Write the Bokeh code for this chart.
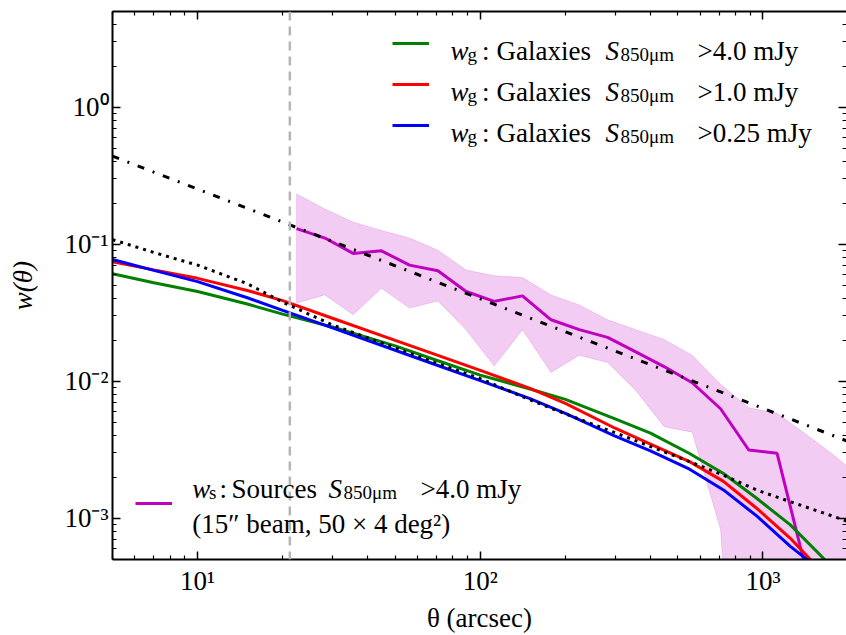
from bokeh.plotting import figure
from bokeh.models import (Span, Label, Legend, LegendItem, FixedTicker, LogAxis,
                          CustomJSTickFormatter, Range1d)
from bokeh.embed import file_html
from bokeh.resources import INLINE

# ---------------- data ----------------
theta_model = [5, 7, 10, 15, 20, 30, 50, 70, 100, 150, 200, 300, 400, 550, 725, 950, 1250, 1650, 2000]
w_g_4mJy = [0.0610, 0.0523, 0.0452, 0.0366, 0.0309, 0.0249, 0.01814, 0.01424, 0.01109, 0.00878,
            0.00737, 0.00532, 0.00418, 0.00297, 0.00212, 0.00140, 0.000894, 0.000502, 0.000336]
w_g_1mJy = [0.0746, 0.0650, 0.0564, 0.0460, 0.0388, 0.02884, 0.01989, 0.01556, 0.01201, 0.00886,
            0.00689, 0.00454, 0.00348, 0.00259, 0.00186, 0.001184, 0.000714, 0.000388, 0.00025]
w_g_025mJy = [0.0774, 0.0645, 0.0534, 0.0407, 0.0329, 0.0245, 0.01683, 0.01315, 0.01012, 0.00747,
              0.00583, 0.00397, 0.00310, 0.00228, 0.00161, 0.00104, 0.000624, 0.000397, 0.00025]
w_dm = [0.1081, 0.0871, 0.0704, 0.0515, 0.0378, 0.02576, 0.01755, 0.01354, 0.01046, 0.00731,
        0.00578, 0.00421, 0.00334, 0.00259, 0.00206, 0.001606, 0.00132, 0.001087, 0.000946]

theta_pl = [5, 2000]
w_pl = [0.44, 0.00364]

theta_bins = [22.4, 28.2, 35.5, 44.7, 56.2, 70.8, 89.1, 112, 141, 178, 224, 282, 355, 447,
              562, 708, 891, 1122, 1413, 1778, 2239]
w_src = [0.130, 0.111, 0.0857, 0.0896, 0.0704, 0.0641, 0.0452, 0.0383, 0.0420, 0.0281, 0.0238,
         0.0209, 0.0164, 0.0128, 0.00975, 0.0063, 0.00315, 0.00298, 0.00044]
w_src_hi = [0.233, 0.181, 0.145, 0.126, 0.111, 0.0905, 0.0648, 0.0590, 0.0571, 0.0427, 0.0361,
            0.0281, 0.0238, 0.0202, 0.0155, 0.0095, 0.0064, 0.00583, 0.00413, 0.0029, 0.00195]
w_src_lo = [0.0372, 0.0427, 0.0306, 0.0478, 0.0342, 0.0386, 0.0238, 0.0129, 0.0238, 0.0116, 0.0155,
            0.0137, 0.00857, 0.00466, 0.00425, 0.00083, 1e-6, 1e-6, 1e-6, 1e-6, 1e-6]

theta_beam = 21.2
thresholds = ["4.0", "1.0", "0.25"]
x_major = [1, 10, 100, 1000, 10000]
y_major = [1e-4, 1e-3, 1e-2, 1e-1, 1, 10]

# ---------------- figure ----------------
FONT = "Liberation Serif"
FL, FB = 112, 564  # frame left / bottom in canvas pixels

p = figure(width=846, height=635, x_axis_type="log", y_axis_type="log",
           x_range=Range1d(5, 1975), y_range=Range1d(5e-4, 5),
           output_backend="svg", toolbar_location=None,
           min_border_left=FL, min_border_right=0, min_border_top=11,
           min_border_bottom=635 - FB)
p.outline_line_color = None
p.grid.visible = False
p.background_fill_color = "white"
p.border_fill_color = "white"

sup_fmt = CustomJSTickFormatter(code="""
const sup = {"-": "\u207b", "0": "\u2070", "1": "\u00b9", "2": "\u00b2", "3": "\u00b3", "4": "\u2074"};
const e = Math.round(Math.log10(tick));
return "10" + String(e).split("").map(c => sup[c]).join("");
""")
blank_fmt = CustomJSTickFormatter(code='return "";')

def minors(majors):
    return [m * k for m in majors for k in range(2, 10)]

def style(ax, majors, label=True):
    ax.ticker = FixedTicker(ticks=majors, minor_ticks=minors(majors))
    ax.major_tick_in = 8
    ax.major_tick_out = 0
    ax.minor_tick_in = 4
    ax.minor_tick_out = 0
    ax.major_tick_line_width = 1.5
    ax.minor_tick_line_width = 1.2
    ax.axis_line_width = 2
    ax.major_tick_line_color = "black"
    ax.minor_tick_line_color = "black"
    ax.axis_line_color = "black"
    if label:
        ax.formatter = sup_fmt
        ax.major_label_text_font = FONT
        ax.major_label_text_font_size = "27px"
        ax.major_label_text_color = "black"
    else:
        ax.formatter = blank_fmt
        ax.major_label_text_font_size = "0px"
        ax.major_label_standoff = 0

xa = p.xaxis[0]
style(xa, x_major)
xa.major_label_standoff = 6
xa.axis_label = "θ (arcsec)"
xa.axis_label_text_font = FONT
xa.axis_label_text_font_size = "27px"
xa.axis_label_text_font_style = "normal"
xa.axis_label_text_color = "black"
xa.axis_label_standoff = 4

ya = p.yaxis[0]
style(ya, y_major)
ya.major_label_standoff = 4
ya.axis_label = "w(θ)"
ya.axis_label_text_font = FONT
ya.axis_label_text_font_size = "27px"
ya.axis_label_text_font_style = "italic"
ya.axis_label_text_color = "black"
ya.axis_label_standoff = 23

top = LogAxis()
style(top, x_major, label=False)
p.add_layout(top, "above")
right = LogAxis()
style(right, y_major, label=False)
right.axis_line_color = None
p.add_layout(right, "right")

# ---------------- glyphs ----------------
MAG = "#bf00bf"
p.patch(x=theta_bins + theta_bins[::-1], y=w_src_hi + w_src_lo[::-1],
        fill_color=MAG, fill_alpha=0.2, line_color=MAG, line_alpha=0.15, line_width=1)
p.add_layout(Span(location=theta_beam, dimension="height", line_color="#b5b5b5",
                  line_width=2.5, line_dash="9 6"))
r_src = p.line(theta_bins[:len(w_src)], w_src, line_color=MAG, line_width=3)
r_g4 = p.line(theta_model, w_g_4mJy, line_color="#008000", line_width=3)
r_g1 = p.line(theta_model, w_g_1mJy, line_color="#ff0000", line_width=3)
r_g025 = p.line(theta_model, w_g_025mJy, line_color="#0000ff", line_width=3)
p.line(theta_model, w_dm, line_color="black", line_width=3, line_dash="3 5")
p.line(theta_pl, w_pl, line_color="black", line_width=3, line_dash="7 9 2 9")

# ---------------- legends (sample lines) ----------------
def make_legend(items, loc, spacing):
    lg = Legend(items=items, location=loc, orientation="vertical",
                glyph_width=37, glyph_height=20, label_height=20, label_width=1,
                label_standoff=0, spacing=spacing, padding=0, margin=0,
                label_text_font_size="1px", border_line_color=None,
                background_fill_alpha=0)
    p.add_layout(lg)

make_legend([LegendItem(label=" ", renderers=[r]) for r in (r_g4, r_g1, r_g025)],
            (391.7 - FL, FB - 140.3), 21)
make_legend([LegendItem(label=" ", renderers=[r_src])], (135 - FL, FB - 518.3), 0)

# ---------------- legend texts ----------------
def put(text, px, py, size=27, style="normal"):
    p.add_layout(Label(x=px - FL, y=FB - py, x_units="screen", y_units="screen",
                       text=text, text_font=FONT, text_font_size=f"{size}px",
                       text_font_style=style, text_baseline="alphabetic",
                       text_color="black"))

for i, thr in enumerate(thresholds):
    base = 55 + 41 * i
    put("w", 450, base, style="italic")
    put("g", 467, base + 4, size=19)
    put(":", 481.5, base)
    put("Galaxies", 496, base)
    put("S", 605, base, style="italic")
    put("850μm", 620, base + 4, size=19)
    put(">" + thr + " mJy", 697, base)

put("w", 191.7, 493, style="italic")
put("s", 208.5, 497, size=19)
put(":", 219, 493)
put("Sources", 231, 493)
put("S", 328, 493, style="italic")
put("850μm", 343, 497, size=19)
put(">" + thresholds[0] + " mJy", 420, 493)
put("(15″ beam, 50 × 4 deg²)", 191.7, 528)

open("out.html", "w").write(file_html(p, INLINE))
